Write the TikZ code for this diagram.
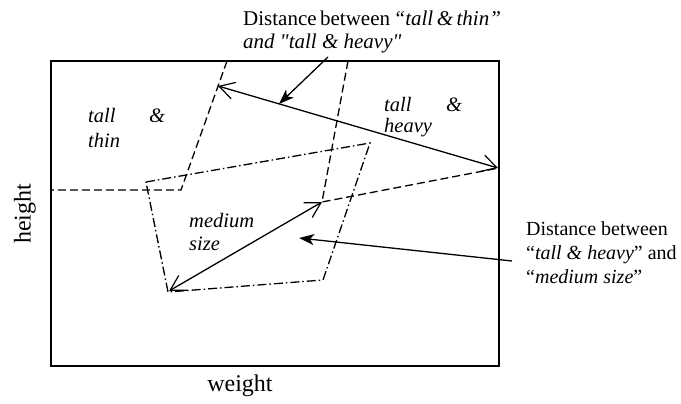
\documentclass[tikz,border=0pt]{standalone}
\usepackage{fontspec}
\setmainfont{Liberation Serif}
\usetikzlibrary{arrows.meta}
\begin{document}
\begin{tikzpicture}[x=1pt,y=-1pt,
  lab/.style={font=\fontsize{21}{24}\selectfont, inner sep=0pt, anchor=base west},
  rlab/.style={lab, font=\fontsize{20}{24}\selectfont},
  itl/.style={lab, font=\fontsize{20.5}{24}\selectfont\itshape},
  axis/.style={font=\fontsize{24}{28}\selectfont, inner sep=0pt},
  frame/.style={line width=1.5pt},
  bound/.style={line width=1.3pt, dash pattern=on 8pt off 4pt},
  medbound/.style={line width=1.3pt, dash pattern=on 9pt off 3pt on 1.5pt off 3pt},
  dist/.style={line width=1.3pt, {Straight Barb[length=15pt,width=17pt,line width=1.2pt]}-{Straight Barb[length=15pt,width=17pt,line width=1.2pt]}},
  pointer/.style={line width=1.3pt, -{Stealth[length=15pt,width=11pt,inset=4pt]}}]
\useasboundingbox (0,0) rectangle (681,404);
\draw[frame] (51,61) rectangle (499,366);

% boundaries
\coordinate (a1) at (227,61);
\coordinate (a2) at (181,190);
\coordinate (a3) at (51,190);
\coordinate (b1) at (348,61);
\coordinate (b2) at (322,202);
\coordinate (b3) at (499,168);
\draw[bound] (a1) -- (a2) -- (a3);
\draw[bound] (b1) -- (b2) -- (b3);
\coordinate (m1) at (146,182);
\coordinate (m2) at (370,143);
\coordinate (m3) at (323,280);
\coordinate (m4) at (168,292);
\draw[medbound] (m1) -- (m2) -- (m3) -- (m4) -- cycle;

% distance arrows
\coordinate (p1) at (218,86);
\coordinate (p2) at (498,168);
\coordinate (p3) at (169,291);
\draw[dist] (p1) -- (p2);
\draw[dist] (p3) -- (b2);

% region labels
\node[itl] (tt1) at (88,122) {tall};
\node[itl] (tt2) at (149,122) {\&};
\node[itl] (tt3) at (88,147) {thin};
\node[itl] (th1) at (384,111) {tall};
\node[itl] (th2) at (446,111) {\&};
\node[itl] (th3) at (384,132) {heavy};
\node[itl] (ms1) at (189,227) {medium};
\node[itl] (ms2) at (189,250) {size};

% axis labels
\node[axis, rotate=90] (hy) at (25,214) {height};
\node[axis, anchor=base] (wx) at (240,391) {weight};

% callouts
\node[lab] (c1) at (243,26) {\makebox[255pt][s]{Distance between \textit{“tall \& thin”}}};
\node[lab] (c2) at (243,49) {\textit{and \textquotedbl tall \& heavy\textquotedbl}};
\node[rlab] (d1) at (526,235) {Distance between};
\node[rlab] (d2) at (526,259) {“\textit{tall \& heavy}” and};
\node[rlab] (d3) at (526,283) {“\textit{medium size}”};

\coordinate (q1) at (328,57);
\coordinate (q2) at (279,104);
\coordinate (r1) at (512,261);
\coordinate (r2) at (299,238);
\draw[pointer] (q1) -- (q2);
\draw[pointer] (r1) -- (r2);
\end{tikzpicture}
\end{document}
